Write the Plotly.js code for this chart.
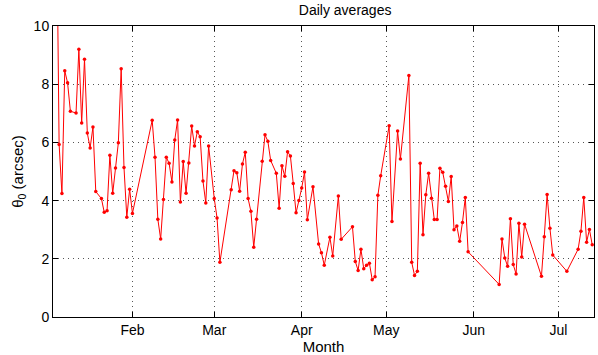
<!DOCTYPE html>
<html>
<head>
<meta charset="utf-8">
<script src="https://cdn.plot.ly/plotly-3.0.1.min.js"></script>
<style>
  html, body { margin: 0; padding: 0; background: #fff; }
  #chart { width: 598px; height: 355px; }
</style>
</head>
<body>
<div id="chart"></div>
<script>
// Daily averages of theta_0 (2008, leap year)
const dates = [
  '2008-01-05','2008-01-06','2008-01-07','2008-01-08','2008-01-09','2008-01-10','2008-01-12','2008-01-13',
  '2008-01-14','2008-01-15','2008-01-16','2008-01-17','2008-01-18','2008-01-19','2008-01-21','2008-01-22',
  '2008-01-23','2008-01-24','2008-01-25','2008-01-26','2008-01-27','2008-01-28','2008-01-29','2008-01-30',
  '2008-01-31','2008-02-01','2008-02-08','2008-02-09','2008-02-10','2008-02-11','2008-02-12','2008-02-13',
  '2008-02-14','2008-02-15','2008-02-16','2008-02-17','2008-02-18','2008-02-19','2008-02-20','2008-02-21',
  '2008-02-22','2008-02-23','2008-02-24','2008-02-25','2008-02-26','2008-02-27','2008-02-28','2008-03-01',
  '2008-03-02','2008-03-03','2008-03-07','2008-03-08','2008-03-09','2008-03-10','2008-03-11','2008-03-12',
  '2008-03-13','2008-03-14','2008-03-15','2008-03-16','2008-03-18','2008-03-19','2008-03-20','2008-03-21',
  '2008-03-23','2008-03-24','2008-03-25','2008-03-26','2008-03-27','2008-03-28','2008-03-29','2008-03-30',
  '2008-03-31','2008-04-01','2008-04-02','2008-04-03','2008-04-05','2008-04-07','2008-04-08','2008-04-09',
  '2008-04-11','2008-04-12','2008-04-14','2008-04-15','2008-04-19','2008-04-20','2008-04-21','2008-04-22',
  '2008-04-23','2008-04-24','2008-04-25','2008-04-26','2008-04-27','2008-04-28','2008-04-29','2008-05-02',
  '2008-05-03','2008-05-05','2008-05-06','2008-05-09','2008-05-10','2008-05-11','2008-05-12','2008-05-13',
  '2008-05-14','2008-05-15','2008-05-16','2008-05-17','2008-05-18','2008-05-19','2008-05-20','2008-05-21',
  '2008-05-22','2008-05-23','2008-05-24','2008-05-25','2008-05-26','2008-05-27','2008-05-28','2008-05-29',
  '2008-05-30','2008-06-10','2008-06-11','2008-06-12','2008-06-13','2008-06-14','2008-06-15','2008-06-16',
  '2008-06-17','2008-06-18','2008-06-19','2008-06-25','2008-06-26','2008-06-27','2008-06-28','2008-06-29',
  '2008-07-04','2008-07-08','2008-07-09','2008-07-10','2008-07-11','2008-07-12','2008-07-13'
];
const theta0 = [
  15.0, 5.93, 4.24, 8.46, 8.05, 7.07, 7.01, 9.2,
  6.67, 8.86, 6.32, 5.81, 6.53, 4.31, 4.07, 3.6,
  3.65, 5.56, 4.25, 5.12, 5.99, 8.53, 5.14, 3.43,
  4.39, 3.56, 6.76, 5.49, 3.36, 2.68, 4.04, 5.49,
  5.28, 4.64, 6.08, 6.77, 3.95, 5.34, 4.25, 5.29,
  6.56, 5.88, 6.37, 6.19, 4.67, 3.92, 5.88, 4.07,
  3.4, 1.88, 4.37, 5.03, 4.96, 4.32, 5.26, 5.66,
  4.07, 3.63, 2.4, 3.36, 5.35, 6.26, 6.04, 5.38,
  4.94, 3.74, 5.2, 4.84, 5.68, 5.53, 4.59, 3.58,
  4.0, 4.43, 4.98, 3.34, 4.48, 2.51, 2.21, 1.78,
  2.74, 2.1, 4.16, 2.67, 3.1, 1.91, 1.6, 2.33,
  1.66, 1.78, 1.85, 1.28, 1.38, 4.18, 4.85, 6.57,
  3.28, 6.39, 5.43, 8.3, 1.88, 1.43, 1.57, 5.28,
  2.83, 4.2, 4.94, 4.08, 3.35, 3.35, 5.11, 4.97,
  4.49, 3.97, 4.83, 3.0, 3.13, 2.6, 3.25, 4.11,
  2.24, 1.12, 2.68, 2.03, 1.74, 3.38, 1.8, 1.48,
  3.22, 2.06, 3.19, 1.4, 2.76, 4.21, 3.05, 2.13,
  1.57, 2.33, 2.95, 4.11, 2.57, 3.01, 2.48
];
const xRange = ['2008-01-03 20:00', '2008-07-13 15:00'];
const yTicks = [0, 2, 4, 6, 8, 10];

const FONT = 'Liberation Sans, Arial, Helvetica, sans-serif';

// MATLAB-ish axes: boxed, inward ticks on all sides, sparse dotted grid
const axisCommon = {
  showline: true, linecolor: '#000', linewidth: 1, mirror: 'allticks',
  ticks: 'inside', ticklen: 5, tickcolor: '#000', tickwidth: 1,
  showgrid: true, gridcolor: '#555', griddash: '1px,4px', gridwidth: 1,
  zeroline: false, tickfont: { family: FONT, size: 14, color: '#000' },
};

Plotly.newPlot('chart', [{
  x: dates, y: theta0, type: 'scatter', mode: 'lines+markers',
  line: { color: '#ff0000', width: 1 },
  marker: { color: '#ff0000', size: 3.5 },
  hoverinfo: 'x+y',
}], {
  width: 598, height: 355,
  margin: { l: 53, r: 4, t: 26, b: 38 },
  paper_bgcolor: '#fff', plot_bgcolor: '#fff',
  showlegend: false,
  font: { family: FONT, size: 14, color: '#000' },
  title: { text: 'Daily averages', font: { family: FONT, size: 14, color: '#000' },
    x: 0.54, xref: 'paper', xanchor: 'center', y: 0.972, yref: 'container', yanchor: 'middle' },
  xaxis: Object.assign({}, axisCommon, {
    type: 'date', range: xRange, tick0: '2008-01-01', dtick: 'M1', tickformat: '%b',
    title: { text: 'Month', font: { family: FONT, size: 15, color: '#000' }, standoff: 2 },
  }),
  yaxis: Object.assign({}, axisCommon, {
    range: [0, 10], tickvals: yTicks,
    title: { text: 'θ<sub>0</sub> (arcsec)', font: { family: FONT, size: 15, color: '#000' }, standoff: 6 },
  }),
}, { displayModeBar: false, staticPlot: true });
</script>
</body>
</html>
